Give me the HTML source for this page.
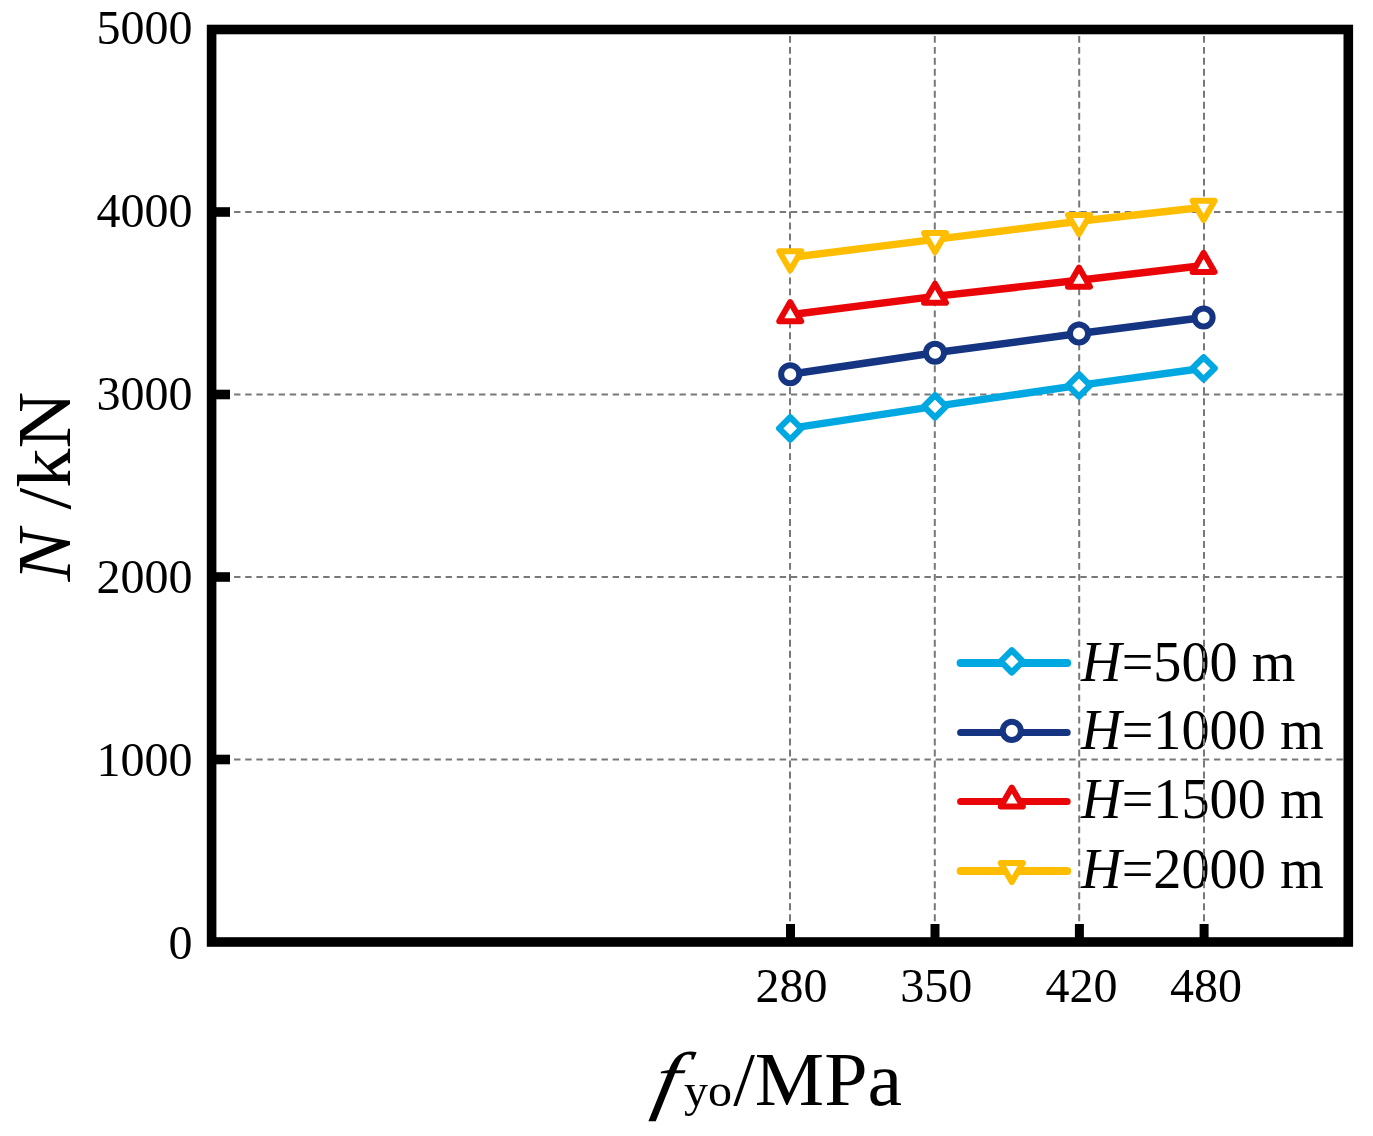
<!DOCTYPE html>
<html lang="en"><head><meta charset="utf-8"><title>N-fyo chart</title>
<style>html,body{margin:0;padding:0;background:#fff;overflow:hidden}svg{display:block;will-change:transform}text{font-family:"Liberation Serif",serif;fill:#000}.it{font-style:italic}</style></head><body>
<svg width="1373" height="1136" viewBox="0 0 1373 1136">
<rect width="1373" height="1136" fill="#fff"/>
<g id="legend">
<line x1="960.6" y1="663.0" x2="1067.2" y2="663.0" stroke="#00a8e2" stroke-width="8" stroke-linecap="round"/>
<path d="M1011.8 650.3L1022.9 661.4L1011.8 672.5L1000.7 661.4Z" fill="#fff" stroke="#00a8e2" stroke-width="6.2" stroke-linejoin="round"/>
<text x="1081" y="680.5" font-size="56.25"><tspan class="it">H</tspan>=500 m</text>
<line x1="960.6" y1="732.5" x2="1067.2" y2="732.5" stroke="#153482" stroke-width="7" stroke-linecap="round"/>
<circle cx="1011.8" cy="730.9" r="9.05" fill="#fff" stroke="#153482" stroke-width="6.0"/>
<text x="1081" y="748.9" font-size="56.25"><tspan class="it">H</tspan>=1000 m</text>
<line x1="960.6" y1="801.5" x2="1067.2" y2="801.5" stroke="#ea0608" stroke-width="7" stroke-linecap="round"/>
<path d="M1011.8 787.6L1022.8 806.6L1000.8 806.6Z" fill="#fff" stroke="#ea0608" stroke-width="6.0" stroke-linejoin="round"/>
<text x="1081" y="817.6" font-size="56.25"><tspan class="it">H</tspan>=1500 m</text>
<line x1="960.6" y1="871.0" x2="1067.2" y2="871.0" stroke="#ffbd00" stroke-width="8" stroke-linecap="round"/>
<path d="M1011.8 882.0L1022.8 862.9L1000.8 862.9Z" fill="#fff" stroke="#ffbd00" stroke-width="6.0" stroke-linejoin="round"/>
<text x="1081" y="887.6" font-size="56.25"><tspan class="it">H</tspan>=2000 m</text>
</g>
<g id="grid" stroke="#787878" stroke-width="2" fill="none">
<line x1="211.8" y1="759.5" x2="1348.3" y2="759.5" stroke-dasharray="6.4 4.735"/>
<line x1="211.8" y1="577.0" x2="1348.3" y2="577.0" stroke-dasharray="6.4 4.735"/>
<line x1="211.8" y1="394.5" x2="1348.3" y2="394.5" stroke-dasharray="6.4 4.735"/>
<line x1="211.8" y1="212.0" x2="1348.3" y2="212.0" stroke-dasharray="6.4 4.735"/>
<line x1="790.0" y1="35.9" x2="790.0" y2="942.0" stroke-dasharray="6.9 4.08"/>
<line x1="934.8" y1="35.9" x2="934.8" y2="942.0" stroke-dasharray="6.9 4.08"/>
<line x1="1079.2" y1="35.9" x2="1079.2" y2="942.0" stroke-dasharray="6.9 4.08"/>
<line x1="1204.0" y1="35.9" x2="1204.0" y2="942.0" stroke-dasharray="6.9 4.08"/>
</g>
<g id="axes" stroke="#000" stroke-width="9.6" fill="none">
<line x1="211.6" y1="759.5" x2="230" y2="759.5"/>
<line x1="211.6" y1="577.0" x2="230" y2="577.0"/>
<line x1="211.6" y1="394.5" x2="230" y2="394.5"/>
<line x1="211.6" y1="212.0" x2="230" y2="212.0"/>
<line x1="790.5" y1="942.0" x2="790.5" y2="924" stroke-width="9"/>
<line x1="935.0" y1="942.0" x2="935.0" y2="924" stroke-width="9"/>
<line x1="1079.4" y1="942.0" x2="1079.4" y2="924" stroke-width="9"/>
<line x1="1204.1" y1="942.0" x2="1204.1" y2="924" stroke-width="9"/>
<rect x="211.6" y="29.5" width="1136.7" height="912.5"/>
</g>
<g id="data">
<polyline points="790.2,428.4 935.0,406.4 1079.0,385.4 1203.6,368.3" fill="none" stroke="#00a8e2" stroke-width="7.5" stroke-linejoin="round"/>
<path d="M790.2 417.3L801.3 428.4L790.2 439.5L779.1 428.4Z" fill="#fff" stroke="#00a8e2" stroke-width="6.2" stroke-linejoin="round"/>
<path d="M935.0 395.3L946.1 406.4L935.0 417.5L923.9 406.4Z" fill="#fff" stroke="#00a8e2" stroke-width="6.2" stroke-linejoin="round"/>
<path d="M1079.0 374.3L1090.1 385.4L1079.0 396.5L1067.9 385.4Z" fill="#fff" stroke="#00a8e2" stroke-width="6.2" stroke-linejoin="round"/>
<path d="M1203.6 357.2L1214.7 368.3L1203.6 379.4L1192.5 368.3Z" fill="#fff" stroke="#00a8e2" stroke-width="6.2" stroke-linejoin="round"/>
<polyline points="790.2,374.2 935.0,352.8 1079.0,333.5 1203.6,317.5" fill="none" stroke="#153482" stroke-width="7.5" stroke-linejoin="round"/>
<circle cx="790.2" cy="374.2" r="9.05" fill="#fff" stroke="#153482" stroke-width="6.0"/>
<circle cx="935.0" cy="352.8" r="9.05" fill="#fff" stroke="#153482" stroke-width="6.0"/>
<circle cx="1079.0" cy="333.5" r="9.05" fill="#fff" stroke="#153482" stroke-width="6.0"/>
<circle cx="1203.6" cy="317.5" r="9.05" fill="#fff" stroke="#153482" stroke-width="6.0"/>
<polyline points="790.2,314.8 935.0,296.4 1079.0,280.3 1203.6,265.5" fill="none" stroke="#ea0608" stroke-width="7.5" stroke-linejoin="round"/>
<path d="M790.2 302.1L801.2 321.2L779.2 321.2Z" fill="#fff" stroke="#ea0608" stroke-width="6.0" stroke-linejoin="round"/>
<path d="M935.0 283.7L946.0 302.8L924.0 302.8Z" fill="#fff" stroke="#ea0608" stroke-width="6.0" stroke-linejoin="round"/>
<path d="M1079.0 267.6L1090.0 286.7L1068.0 286.7Z" fill="#fff" stroke="#ea0608" stroke-width="6.0" stroke-linejoin="round"/>
<path d="M1203.6 252.8L1214.6 271.9L1192.6 271.9Z" fill="#fff" stroke="#ea0608" stroke-width="6.0" stroke-linejoin="round"/>
<polyline points="790.2,257.5 935.0,239.4 1079.0,221.3 1203.6,207.2" fill="none" stroke="#ffbd00" stroke-width="7.5" stroke-linejoin="round"/>
<path d="M790.2 270.2L801.2 251.2L779.2 251.2Z" fill="#fff" stroke="#ffbd00" stroke-width="6.0" stroke-linejoin="round"/>
<path d="M935.0 252.1L946.0 233.1L924.0 233.1Z" fill="#fff" stroke="#ffbd00" stroke-width="6.0" stroke-linejoin="round"/>
<path d="M1079.0 234.0L1090.0 215.0L1068.0 215.0Z" fill="#fff" stroke="#ffbd00" stroke-width="6.0" stroke-linejoin="round"/>
<path d="M1203.6 219.9L1214.6 200.8L1192.6 200.8Z" fill="#fff" stroke="#ffbd00" stroke-width="6.0" stroke-linejoin="round"/>
</g>
<g id="ticklabels" font-size="48">
<text x="192.6" y="958.7" text-anchor="end">0</text>
<text x="192.6" y="775.8" text-anchor="end">1000</text>
<text x="192.6" y="592.9" text-anchor="end">2000</text>
<text x="192.6" y="410.0" text-anchor="end">3000</text>
<text x="192.6" y="227.1" text-anchor="end">4000</text>
<text x="192.6" y="44.2" text-anchor="end">5000</text>
<text x="791.4" y="1001.8" text-anchor="middle">280</text>
<text x="936.2" y="1001.8" text-anchor="middle">350</text>
<text x="1081.6" y="1001.8" text-anchor="middle">420</text>
<text x="1206.1" y="1001.8" text-anchor="middle">480</text>
</g>
<text transform="translate(69.6 581.6) rotate(-90) scale(1.02 1)" font-size="77"><tspan class="it">N</tspan> /kN</text>
<g id="xtitle">
<text class="it" transform="translate(650.5 1105.4) skewX(-11) scale(1.2 1)" font-size="76">f</text>
<text transform="translate(684 1106.4) scale(1.045 1)" font-size="46">yo</text>
<text transform="translate(733.2 1105.4) scale(1.026 1)" font-size="76">/MPa</text>
</g>
</svg></body></html>
